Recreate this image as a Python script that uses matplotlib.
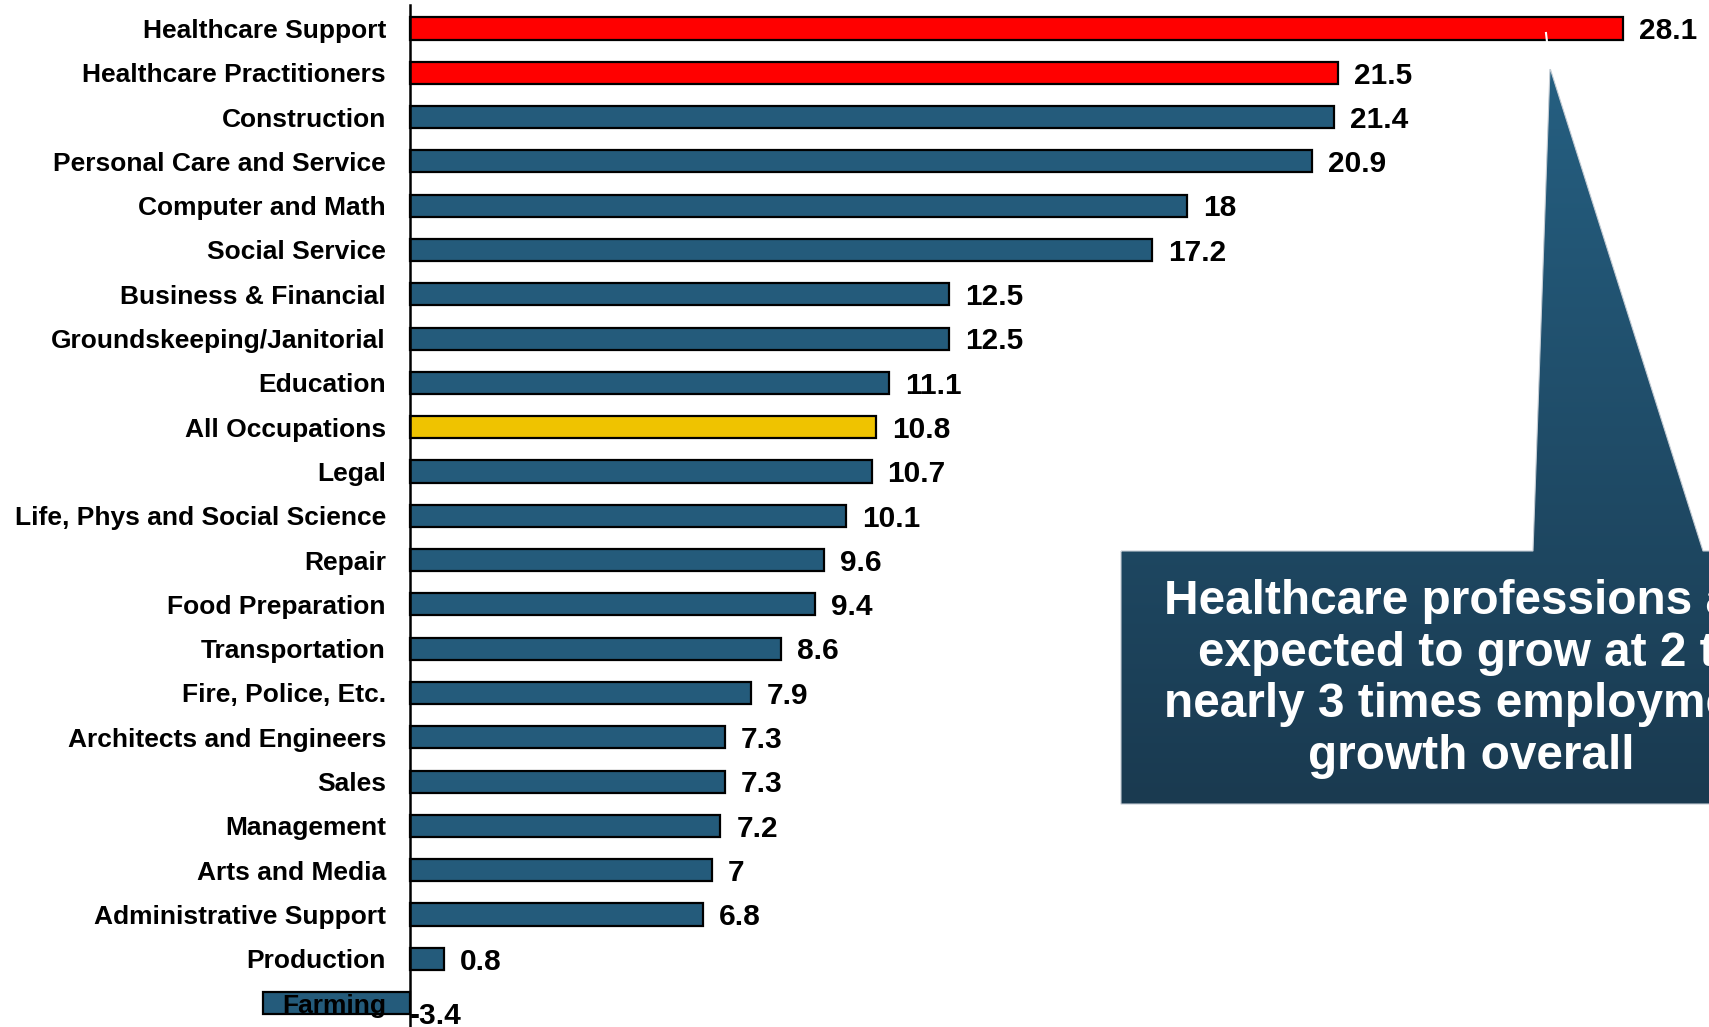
import numpy as np
import matplotlib
matplotlib.use("Agg")
import matplotlib.pyplot as plt
from matplotlib.path import Path
from matplotlib.patches import PathPatch
from matplotlib.colors import LinearSegmentedColormap

plt.rcParams['font.family'] = ['Liberation Sans', 'DejaVu Sans']

# Projected employment growth by occupation group (%)
categories = [
    "Healthcare Support", "Healthcare Practitioners", "Construction",
    "Personal Care and Service", "Computer and Math", "Social Service",
    "Business & Financial", "Groundskeeping/Janitorial", "Education",
    "All Occupations", "Legal", "Life, Phys and Social Science", "Repair",
    "Food Preparation", "Transportation", "Fire, Police, Etc.",
    "Architects and Engineers", "Sales", "Management", "Arts and Media",
    "Administrative Support", "Production", "Farming",
]
growth = [28.1, 21.5, 21.4, 20.9, 18, 17.2, 12.5, 12.5, 11.1, 10.8, 10.7,
          10.1, 9.6, 9.4, 8.6, 7.9, 7.3, 7.3, 7.2, 7, 6.8, 0.8, -3.4]
value_labels = ["28.1", "21.5", "21.4", "20.9", "18", "17.2", "12.5", "12.5",
                "11.1", "10.8", "10.7", "10.1", "9.6", "9.4", "8.6", "7.9",
                "7.3", "7.3", "7.2", "7", "6.8", "0.8", "-3.4"]
highlight_health = ["Healthcare Support", "Healthcare Practitioners"]
highlight_all = ["All Occupations"]

callout_lines = ["Healthcare professions are", "expected to grow at 2 to",
                 "nearly 3 times employment", "growth overall"]

BLUE = "#245b7b"
RED = "#ff0000"
GOLD = "#efc300"

W, H = 1709, 1027
fig = plt.figure(figsize=(W / 100, H / 100), dpi=100)
ax = fig.add_axes([0, 0, 1, 1])

colors = [RED if c in highlight_health else GOLD if c in highlight_all else BLUE
          for c in categories]
y = np.arange(len(categories))
ax.barh(y, growth, height=0.5, color=colors, edgecolor="black", linewidth=1.6,
        zorder=1)

ax.set_xlim(-409.5 / 43.19, (W - 409.5) / 43.19)
ax.set_ylim((H - 28.5) / 44.3, -28.5 / 44.3)

for s in ["top", "right", "bottom"]:
    ax.spines[s].set_visible(False)
ax.spines["left"].set_position(("data", 0))
ax.spines["left"].set_linewidth(1.8)
ax.spines["left"].set_bounds(-0.53, (H - 28.5) / 44.3)
ax.spines["left"].set_zorder(3)
ax.set_xticks([])
ax.set_yticks(y)
ax.set_yticklabels(categories, fontsize=19, fontweight="bold")
ax.tick_params(axis="y", length=0, pad=17)
for lbl in ax.get_yticklabels():
    lbl.set_zorder(4)

for yi, v, t in zip(y, growth, value_labels):
    if v >= 0:
        ax.annotate(t, (v, yi), xytext=(11.5, -2), textcoords="offset points",
                    va="center", ha="left", fontsize=21.5, fontweight="bold")
    else:
        ax.annotate(t, (0, yi), xytext=(0.5, -9.5), textcoords="offset points",
                    va="center", ha="left", fontsize=21.5, fontweight="bold")

# Callout overlay in pixel coordinates
ov = fig.add_axes([0, 0, 1, 1], zorder=5)
ov.set_xlim(0, W)
ov.set_ylim(H, 0)
ov.axis("off")
ov.patch.set_alpha(0)

verts = [(1121, 551), (1533, 551), (1550, 68), (1703, 551), (1830, 551),
         (1830, 804), (1121, 804), (1121, 551)]
codes = [Path.MOVETO] + [Path.LINETO] * 6 + [Path.CLOSEPOLY]
path = Path(verts, codes)
grad = LinearSegmentedColormap.from_list("callout", ["#255f81", "#1a3a50"])
img = ov.imshow(np.linspace(0, 1, 256).reshape(-1, 1), cmap=grad,
                extent=(1100, 1850, 804, 68), aspect="auto", zorder=1)
patch = PathPatch(path, facecolor="none", edgecolor="#c4ccd4", linewidth=0.8,
                  zorder=2)
ov.add_patch(patch)
img.set_clip_path(patch)
ov.plot([1550, 1546], [68, 33], color="white", linewidth=1.5, zorder=2)

baselines = [614, 666, 717, 769]
for line, b in zip(callout_lines, baselines):
    ov.text(1471, b, line, ha="center", va="baseline", color="white",
            fontsize=34.4, fontweight="bold", zorder=3)

fig.savefig("out.png", dpi=100)
